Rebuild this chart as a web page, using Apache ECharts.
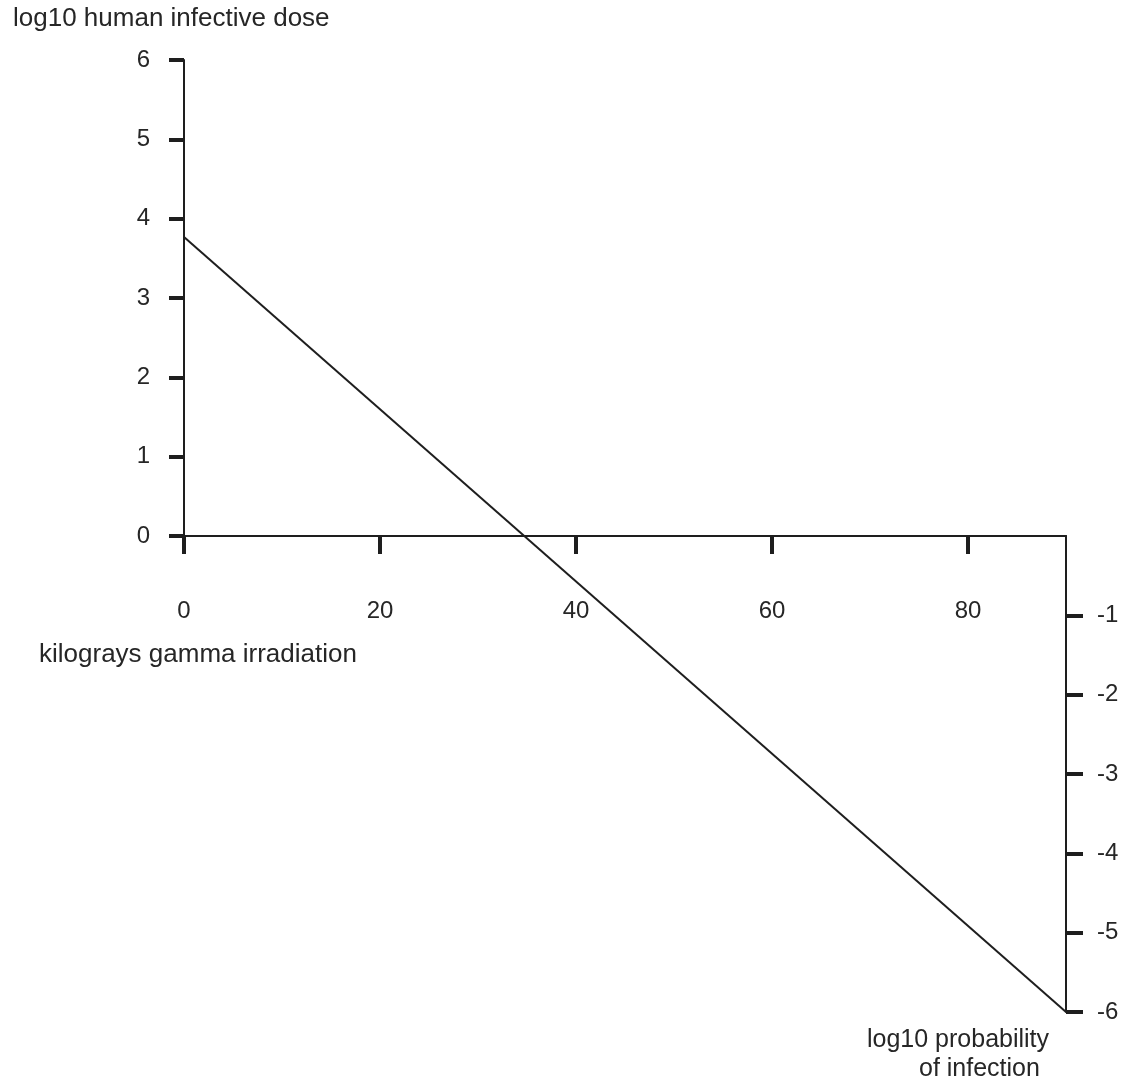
<!DOCTYPE html>
<html>
<head>
<meta charset="utf-8">
<script src="https://cdn.jsdelivr.net/npm/echarts@6/dist/echarts.min.js"></script>
<style>
  html, body { margin: 0; padding: 0; background: #ffffff; }
  #chart { width: 1128px; height: 1085px; }
</style>
</head>
<body>
<div id="chart"></div>
<script>
// ---- data ----
const irradiationKGy = [0, 90];
const log10Value = [3.77, -6];
const xTickValues = [0, 20, 40, 60, 80];
const leftTickValues = [0, 1, 2, 3, 4, 5, 6];
const rightTickValues = [-1, -2, -3, -4, -5, -6];
const titleLeftAxis = 'log10 human infective dose';
const titleXAxis = 'kilograys gamma irradiation';
const titleRightAxisLine1 = 'log10 probability';
const titleRightAxisLine2 = 'of infection';

const lineData = irradiationKGy.map((x, i) => [x, log10Value[i]]);

const INK = '#1e1e1e';
const TXT = '#262626';
const FONT = '"Liberation Sans", Arial, sans-serif';
const G_LEFT = 184, G_WIDTH = 882, G_TOP = 60, HALF = 476;

const chart = echarts.init(document.getElementById('chart'), null, { renderer: 'canvas' });

chart.setOption({
  backgroundColor: '#ffffff',
  animation: false,
  grid: [
    { left: G_LEFT, width: G_WIDTH, top: G_TOP, height: HALF },
    { left: G_LEFT, width: G_WIDTH, top: G_TOP + HALF, height: HALF },
    { left: G_LEFT, width: G_WIDTH, top: G_TOP, height: HALF * 2 }
  ],
  xAxis: [
    {
      gridIndex: 0, type: 'value', min: 0, max: 90, interval: 10,
      position: 'bottom',
      axisLine: { show: true, onZero: false, lineStyle: { color: INK, width: 2 } },
      axisTick: { show: true, inside: false, length: 18, customValues: xTickValues,
                  lineStyle: { color: INK, width: 4 } },
      axisLabel: { show: true, customValues: xTickValues, margin: 63,
                   fontSize: 24, color: TXT, fontFamily: FONT },
      splitLine: { show: false }
    },
    { gridIndex: 1, type: 'value', min: 0, max: 90, show: false },
    { gridIndex: 2, type: 'value', min: 0, max: 90, show: false }
  ],
  yAxis: [
    {
      gridIndex: 0, type: 'value', min: 0, max: 6, interval: 1,
      position: 'left',
      axisLine: { show: true, onZero: false, lineStyle: { color: INK, width: 2 } },
      axisTick: { show: true, inside: false, length: 15, customValues: leftTickValues,
                  lineStyle: { color: INK, width: 4 } },
      axisLabel: { show: true, customValues: leftTickValues, margin: 34,
                   fontSize: 24, color: TXT, fontFamily: FONT },
      splitLine: { show: false }
    },
    {
      gridIndex: 1, type: 'value', min: -6, max: 0, interval: 1,
      position: 'right',
      axisLine: { show: true, onZero: false, lineStyle: { color: INK, width: 2 } },
      axisTick: { show: true, inside: false, length: 17, customValues: rightTickValues,
                  lineStyle: { color: INK, width: 4 } },
      axisLabel: { show: true, customValues: rightTickValues, margin: 31,
                   fontSize: 24, color: TXT, fontFamily: FONT },
      splitLine: { show: false }
    },
    { gridIndex: 2, type: 'value', min: -6, max: 6, show: false }
  ],
  series: [
    {
      type: 'line',
      xAxisIndex: 2, yAxisIndex: 2,
      data: lineData,
      showSymbol: false,
      symbol: 'none',
      lineStyle: { color: INK, width: 2 },
      silent: true
    }
  ],
  graphic: [
    { type: 'text', left: 13, top: 6,
      style: { text: titleLeftAxis, fontSize: 26, fill: TXT, fontFamily: FONT } },
    { type: 'text', left: 39, top: 642,
      style: { text: titleXAxis, fontSize: 26, fill: TXT, fontFamily: FONT } },
    { type: 'text', left: 867, top: 1028,
      style: { text: titleRightAxisLine1, fontSize: 25, fill: TXT, fontFamily: FONT } },
    { type: 'text', left: 919, top: 1057,
      style: { text: titleRightAxisLine2, fontSize: 25, fill: TXT, fontFamily: FONT } }
  ]
});
</script>
</body>
</html>
